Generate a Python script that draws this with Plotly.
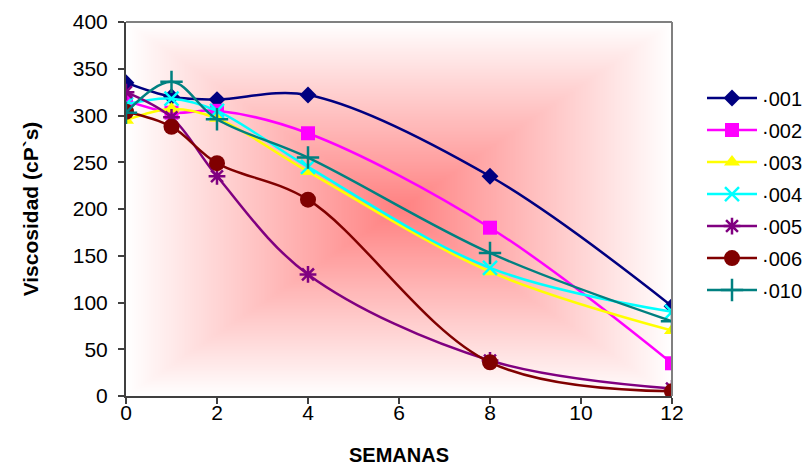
import numpy as np
import plotly.graph_objects as go

# ---- data ----
weeks = [0, 1, 2, 4, 8, 12]
s001 = [335, 320, 317, 322, 235, 96]
s002 = [316, 303, 305, 281, 180, 35]
s003 = [295, 307, 297, 240, 133, 70]
s004 = [312, 318, 305, 245, 137, 90]
s005 = [325, 298, 235, 130, 38, 8]
s006 = [304, 288, 249, 210, 36, 5]
s010 = [303, 336, 296, 255, 153, 80]

names = ["·001", "·002", "·003", "·004", "·005", "·006", "·010"]
series = [s001, s002, s003, s004, s005, s006, s010]
colors = ["#000080", "#FF00FF", "#FFFF00", "#00FFFF", "#800080", "#800000", "#008080"]
symbols = ["diamond", "square", "triangle-up", "x-thin-open", "asterisk-open", "circle", "cross-thin-open"]
sizes = [13, 14, 14, 14, 14, 16, 16]

fig = go.Figure()

# background "from centre" gradient (style only)
gx = np.linspace(-0.2, 12.2, 125)
gy = np.linspace(-5, 405, 125)
U, V = np.meshgrid((gx - 6) / 6, (gy - 200) / 200)
gz = 1 - np.clip(np.maximum(np.abs(U), np.abs(V)), 0, 1)
fig.add_trace(go.Heatmap(x=gx, y=gy, z=gz, zsmooth="best", showscale=False,
                         colorscale=[[0, "#FFFFFF"], [1, "#FF8080"]],
                         zmin=0, zmax=1, hoverinfo="skip", showlegend=False))

for i, (nm, ys, c, sym, sz) in enumerate(zip(names, series, colors, symbols, sizes)):
    open_sym = sym.endswith("-open")
    fig.add_trace(go.Scatter(
        x=weeks, y=ys, name=nm, mode="lines+markers",
        line=dict(color=c, width=2.5, shape="spline", smoothing=1),
        marker=dict(symbol=sym, size=sz, color=c,
                    line=dict(color=c, width=2.5 if open_sym else 0)),
        legendgroup=str(i),
    ))

# gray top/right border of plot area
fig.add_shape(type="line", xref="x domain", yref="y domain", x0=0, x1=1, y0=1, y1=1,
              line=dict(color="#808080", width=2))
fig.add_shape(type="line", xref="x domain", yref="y domain", x0=1, x1=1, y0=0, y1=1,
              line=dict(color="#808080", width=2))

PLOT_W = 808 - 126
fig.update_layout(
    width=808, height=466,
    margin=dict(l=126, r=0, t=22, b=70),
    paper_bgcolor="white", plot_bgcolor="white",
    font=dict(family="Liberation Sans, Arial, sans-serif", color="black", size=21),
    xaxis=dict(domain=[0, 546 / PLOT_W], range=[0, 12], tickvals=[0, 2, 4, 6, 8, 10, 12],
               showgrid=False, zeroline=False, automargin=False,
               showline=True, linecolor="#404040", linewidth=2, ticks="outside", ticklen=6,
               tickcolor="#404040", tickwidth=2, ticklabelstandoff=-9,
               title=dict(text="<b>SEMANAS</b>", font=dict(size=20), standoff=27)),
    yaxis=dict(range=[0, 400], dtick=50, showgrid=False, zeroline=False, automargin=False,
               showline=True, linecolor="#404040", linewidth=2, ticks="outside", ticklen=6,
               tickcolor="#404040", tickwidth=2, ticklabelstandoff=6,
               title=dict(text="<b>Viscosidad (cP`s)</b>", font=dict(size=21), standoff=28)),
    legend=dict(x=1, xanchor="right", y=0.54, yanchor="middle",
                traceorder="grouped", tracegroupgap=3, itemwidth=50,
                font=dict(size=20), bgcolor="rgba(0,0,0,0)"),
    showlegend=True,
)

fig.write_html("out.html")
